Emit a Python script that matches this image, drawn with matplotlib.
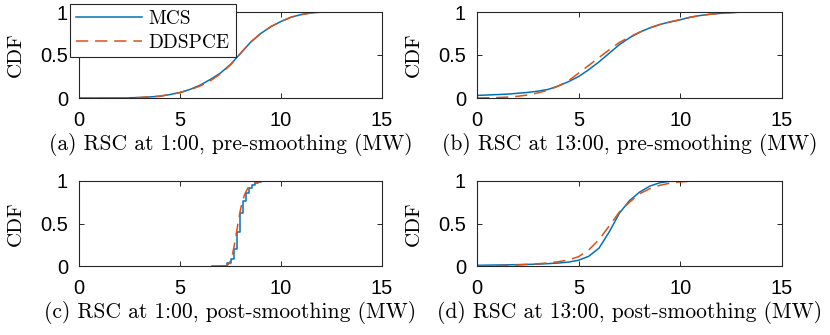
import matplotlib
matplotlib.use("Agg")
import matplotlib.pyplot as plt

# ---- data (CDF values) ----
# (a) RSC at 1:00, pre-smoothing
a_x = [0, 1, 2, 3, 4, 4.5, 5, 5.5, 6, 6.5, 7, 7.5, 8, 8.5, 9, 9.5, 10,
       10.5, 11, 11.5, 12, 12.5, 13, 14, 15]
a_mcs = [0, 0, 0.001, 0.005, 0.02, 0.04, 0.065, 0.10, 0.15, 0.215, 0.29, 0.39,
         0.52, 0.65, 0.75, 0.83, 0.89, 0.94, 0.97, 0.99, 0.998, 1, 1, 1, 1]
a_dds = [0, 0, 0.001, 0.006, 0.022, 0.04, 0.062, 0.095, 0.14, 0.20, 0.28, 0.385,
         0.52, 0.65, 0.75, 0.83, 0.89, 0.94, 0.97, 0.99, 0.998, 1, 1, 1, 1]

# (b) RSC at 13:00, pre-smoothing
b_x = [0, 0.5, 1, 1.5, 2, 2.5, 3, 3.5, 4, 4.5, 5, 5.5, 6, 6.5, 7, 7.5, 8,
       8.5, 9, 9.5, 10, 10.5, 11, 11.5, 12, 12.5, 13, 14, 15]
b_mcs = [0.03, 0.035, 0.04, 0.045, 0.055, 0.065, 0.08, 0.10, 0.14, 0.19, 0.25,
         0.33, 0.42, 0.52, 0.62, 0.70, 0.765, 0.815, 0.855, 0.885, 0.91, 0.94,
         0.96, 0.975, 0.985, 0.993, 0.998, 1, 1]
b_dds = [0, 0.002, 0.005, 0.01, 0.02, 0.035, 0.06, 0.09, 0.14, 0.20, 0.29,
         0.38, 0.47, 0.56, 0.645, 0.71, 0.765, 0.815, 0.855, 0.885, 0.91, 0.94,
         0.96, 0.975, 0.985, 0.993, 0.998, 1, 1]

# (c) RSC at 1:00, post-smoothing
c_mcs_x = [6.6, 7.2, 7.35, 7.5, 7.65, 7.8, 7.95, 8.1, 8.25, 8.4, 8.55, 8.7,
           8.85, 9.0, 9.3, 10.3]
c_mcs = [0, 0.005, 0.03, 0.08, 0.20, 0.40, 0.62, 0.76, 0.86, 0.92, 0.955,
         0.975, 0.99, 0.997, 1, 1]
c_dds_x = [7.0, 7.3, 7.4, 7.5, 7.6, 7.7, 7.8, 7.9, 8.0, 8.1, 8.2, 8.3, 8.4,
           8.6, 8.8, 9.0, 9.3, 10.0]
c_dds = [0, 0.003, 0.02, 0.06, 0.14, 0.26, 0.40, 0.54, 0.67, 0.77, 0.84,
         0.89, 0.93, 0.965, 0.985, 0.995, 1, 1]

# (d) RSC at 13:00, post-smoothing
d_mcs_x = [0, 1, 2, 3, 3.5, 4, 4.5, 5, 5.5, 6, 6.5, 7, 7.5, 8, 8.5, 9, 9.5, 10]
d_mcs = [0.008, 0.012, 0.016, 0.022, 0.028, 0.035, 0.046, 0.068, 0.115, 0.21,
         0.40, 0.62, 0.77, 0.87, 0.94, 0.98, 0.997, 1]
d_dds_x = [0, 1, 2, 3, 3.5, 4, 4.5, 5, 5.5, 6, 6.5, 7, 7.5, 8, 8.5, 9, 9.5,
           10, 10.5, 11, 12, 15]
d_dds = [0, 0.004, 0.012, 0.026, 0.037, 0.05, 0.072, 0.11, 0.19, 0.31, 0.47,
         0.635, 0.75, 0.85, 0.91, 0.95, 0.975, 0.99, 0.996, 1, 1, 1]

captions = ["(a) RSC at 1:00, pre-smoothing (MW)",
            "(b) RSC at 13:00, pre-smoothing (MW)",
            "(c) RSC at 1:00, post-smoothing (MW)",
            "(d) RSC at 13:00, post-smoothing (MW)"]

BLUE = "#0072BD"
ORANGE = "#D95319"
SERIF = "cmr10"
SANS = "Liberation Sans"

fig = plt.figure(figsize=(8.3, 3.35), dpi=100)

W, H = 830.0, 335.0
boxes = [(79, 12, 303, 86), (477, 12, 305, 86),
         (79, 181, 303, 85), (477, 181, 305, 85)]

panels = [
    (a_x, a_mcs, a_x, a_dds, False),
    (b_x, b_mcs, b_x, b_dds, False),
    (c_mcs_x, c_mcs, c_dds_x, c_dds, True),
    (d_mcs_x, d_mcs, d_dds_x, d_dds, False),
]

axes = []
for i, (l, t, w, h) in enumerate(boxes):
    ax = fig.add_axes([l / W, (H - t - h) / H, w / W, h / H])
    mx, my, dx, dy, steps = panels[i]
    ax.plot(mx, my, color=BLUE, lw=1.1, label="MCS",
            drawstyle="steps-post" if steps else "default")
    ln, = ax.plot(dx, dy, color=ORANGE, lw=1.1, label="DDSPCE")
    ln.set_dashes((8, 4.5))
    ax.set_xlim(0, 15)
    ax.set_ylim(0, 1)
    ax.set_xticks([0, 5, 10, 15])
    ax.set_yticks([0, 0.5, 1])
    ax.set_yticklabels(["0", "0.5", "1"])
    ax.tick_params(direction="in", length=3.5, width=0.7, top=True,
                   right=True, labelsize=14.5, colors="#262626")
    ax.tick_params(axis="x", pad=9.5)
    ax.tick_params(axis="y", pad=8)
    for lab in ax.get_xticklabels() + ax.get_yticklabels():
        lab.set_fontfamily(SANS)
        lab.set_color("black")
    for sp in ax.spines.values():
        sp.set_linewidth(0.8)
        sp.set_color("#262626")
    ax.set_xlabel(captions[i], fontfamily=SERIF, fontsize=15.5, labelpad=2)
    ax.set_ylabel("CDF", fontfamily=SERIF, fontsize=15, va="bottom")
    ax.yaxis.set_label_coords(-0.178, 0.5)
    axes.append(ax)

leg = axes[0].legend(loc="upper left", bbox_to_anchor=(-0.03, 1.093),
                     prop={"family": SERIF, "size": 14}, handlelength=3.4,
                     fancybox=False, framealpha=1, edgecolor="#262626",
                     borderpad=0.3, labelspacing=0.3, handletextpad=0.35,
                     borderaxespad=0)
leg.get_frame().set_linewidth(0.8)

fig.savefig("out.png", dpi=100)
